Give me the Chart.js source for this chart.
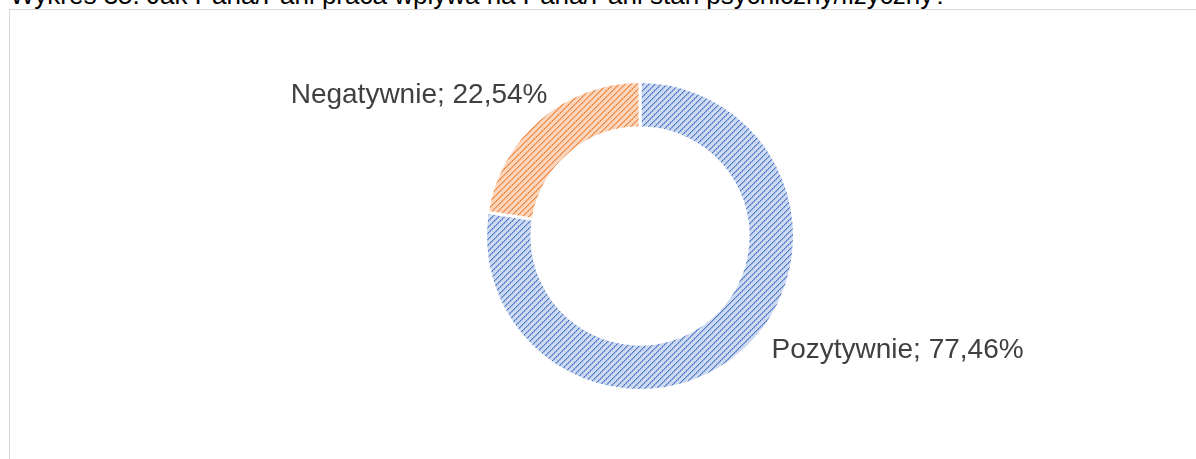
<!DOCTYPE html>
<html>
<head>
<meta charset="utf-8">
<script src="https://cdn.jsdelivr.net/npm/chart.js@4/dist/chart.umd.min.js"></script>
<style>
  html, body { margin: 0; padding: 0; background: #fff; overflow: hidden; }
  #wrap { position: relative; width: 1196px; height: 459px; overflow: hidden; }
  #frame { position: absolute; left: 9px; top: 9px; width: 1300px; height: 600px; border: 1px solid #d9d9d9; box-sizing: border-box; }
  #title { position: absolute; left: 10px; top: -18px; font-family: "Liberation Sans", Arial, sans-serif; font-size: 26px; line-height: 26px; color: #000; white-space: nowrap; }
  canvas { position: absolute; left: 0; top: 0; }
</style>
</head>
<body>
<div id="wrap">
  <div id="frame"></div>
  <div id="title">Wykres 35. Jak Pana/Pani praca wpływa na Pana/Pani stan psychiczny/fizyczny?</div>
  <canvas id="c" width="1196" height="459"></canvas>
</div>
<script>
// ---- data ----
const categories = ["Pozytywnie", "Negatywnie"];
const values = [77.46, 22.54];
const valueLabels = ["77,46%", "22,54%"];

// ---- styling (kept separate from data) ----
const baseColors = ["#cdd9f0", "#fbd6bd"];
const stripeColors = ["#4472c4", "#ed7d31"];
const labelOffsets = [ { dx: 31, dy: 5, align: "left" }, { dx: 8, dy: -16, align: "right" } ];

function makePattern(bg, fg) {
  const s = 6;
  const c = document.createElement("canvas");
  c.width = s; c.height = s;
  const g = c.getContext("2d");
  g.fillStyle = bg; g.fillRect(0, 0, s, s);
  for (let x = 0; x < s; x++) {
    for (let y = 0; y < s; y++) {
      const k = (x + y) % s;
      if (k === 0) { g.globalAlpha = (x % 2 === 0) ? 1 : 0.8; g.fillStyle = fg; g.fillRect(x, y, 1, 1); }
      else if (k === 1) { g.globalAlpha = (x % 2 === 0) ? 0.55 : 0.3; g.fillStyle = fg; g.fillRect(x, y, 1, 1); }
    }
  }
  g.globalAlpha = 1;
  return g.createPattern(c, "repeat");
}

const ctx = document.getElementById("c").getContext("2d");
const fills = baseColors.map((b, i) => makePattern(b, stripeColors[i]));

const labelPlugin = {
  id: "sliceLabels",
  afterDatasetsDraw(chart) {
    const meta = chart.getDatasetMeta(0);
    const g = chart.ctx;
    g.save();
    g.font = '28px "Liberation Sans", Arial, sans-serif';
    g.fillStyle = "#404040";
    g.textBaseline = "alphabetic";
    meta.data.forEach((arc, i) => {
      const p = arc.getProps(["x", "y", "startAngle", "endAngle", "outerRadius"], true);
      const mid = (p.startAngle + p.endAngle) / 2;
      const px = p.x + Math.cos(mid) * p.outerRadius;
      const py = p.y + Math.sin(mid) * p.outerRadius;
      const o = labelOffsets[i];
      g.textAlign = o.align;
      g.fillText(categories[i] + "; " + valueLabels[i], px + o.dx, py + o.dy);
    });
    g.restore();
  }
};

new Chart(ctx, {
  type: "doughnut",
  data: {
    labels: categories,
    datasets: [{
      data: values,
      backgroundColor: fills,
      borderColor: "#ffffff",
      borderWidth: 3,
      hoverOffset: 0
    }]
  },
  options: {
    responsive: false,
    animation: false,
    cutout: "70%",
    layout: { padding: { left: 484, right: 400, top: 80, bottom: 67 } },
    plugins: { legend: { display: false }, tooltip: { enabled: false }, title: { display: false } }
  },
  plugins: [labelPlugin]
});
</script>
</body>
</html>
